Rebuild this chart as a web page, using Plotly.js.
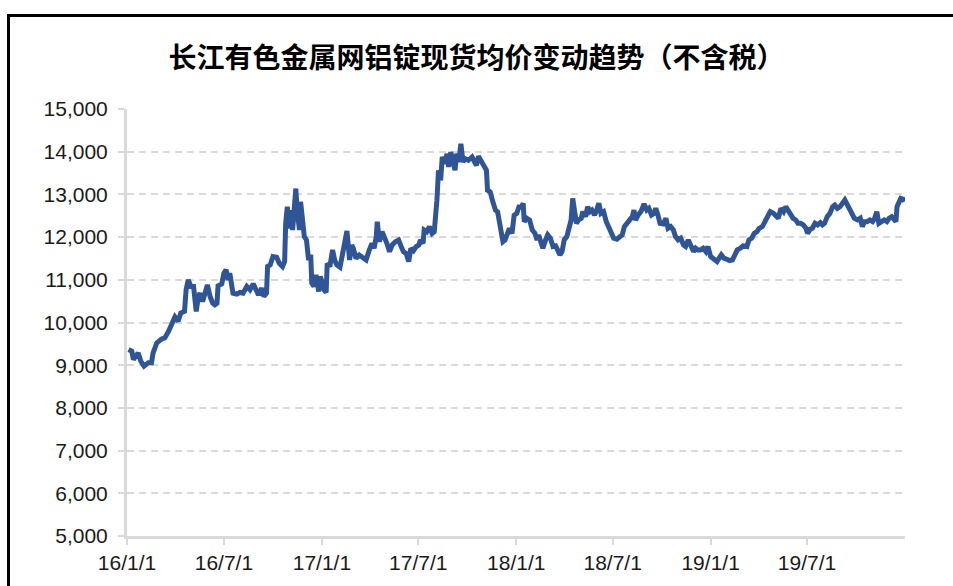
<!DOCTYPE html>
<html>
<head>
<meta charset="utf-8">
<script src="https://cdn.plot.ly/plotly-3.0.1.min.js"></script>
<style>
html,body{margin:0;padding:0;background:#fff;overflow:hidden;width:953px;height:586px;}
#chart{position:absolute;left:0;top:0;width:953px;height:586px;}
#frame{position:absolute;left:7px;top:14px;width:1100px;height:1100px;border:3px solid #000;pointer-events:none;z-index:10;box-sizing:border-box;}
</style>
</head>
<body>
<div id="chart"></div>
<div id="frame"></div>
<script>
const titleText = '长江有色金属网铝锭现货均价变动趋势（不含税）';

const dates = [
'2016-01-04','2016-01-10','2016-01-13','2016-01-22','2016-01-27','2016-02-02','2016-02-10','2016-02-16','2016-02-19','2016-02-26',
'2016-03-06','2016-03-12','2016-03-19','2016-03-25','2016-03-31','2016-04-06','2016-04-11','2016-04-18','2016-04-21','2016-04-25',
'2016-04-30','2016-05-05','2016-05-10','2016-05-14','2016-05-17','2016-05-22','2016-05-27','2016-05-31','2016-06-05','2016-06-10',
'2016-06-14','2016-06-18','2016-06-20','2016-06-27','2016-07-01','2016-07-05','2016-07-09','2016-07-12','2016-07-18','2016-07-25',
'2016-07-31','2016-08-06','2016-08-13','2016-08-19','2016-08-25','2016-08-30','2016-09-04','2016-09-10','2016-09-14','2016-09-19',
'2016-09-21','2016-09-26','2016-10-01','2016-10-08','2016-10-13','2016-10-19','2016-10-23','2016-10-25','2016-10-28','2016-11-01',
'2016-11-04','2016-11-07','2016-11-10','2016-11-13','2016-11-16','2016-11-20','2016-11-22','2016-11-26','2016-11-29','2016-12-03',
'2016-12-07','2016-12-11','2016-12-13','2016-12-17','2016-12-21','2016-12-26','2016-12-29','2017-01-02','2017-01-05','2017-01-09',
'2017-01-11','2017-01-16','2017-01-21','2017-01-25','2017-01-29','2017-02-04','2017-02-09','2017-02-13','2017-02-17','2017-02-22',
'2017-02-26','2017-03-01','2017-03-06','2017-03-12','2017-03-19','2017-03-25','2017-03-31','2017-04-05','2017-04-09','2017-04-13',
'2017-04-15','2017-04-19','2017-04-24','2017-04-29','2017-05-03','2017-05-08','2017-05-13','2017-05-19','2017-05-25','2017-05-30',
'2017-06-03','2017-06-08','2017-06-13','2017-06-17','2017-06-22','2017-06-27','2017-07-02','2017-07-05','2017-07-10','2017-07-12',
'2017-07-17','2017-07-22','2017-07-27','2017-07-31','2017-08-02','2017-08-05','2017-08-08','2017-08-12','2017-08-15','2017-08-20',
'2017-08-24','2017-08-27','2017-08-31','2017-09-04','2017-09-08','2017-09-11','2017-09-15','2017-09-19','2017-09-23','2017-09-27',
'2017-10-03','2017-10-10','2017-10-14','2017-10-18','2017-10-22','2017-10-27','2017-11-01','2017-11-06','2017-11-08','2017-11-13',
'2017-11-18','2017-11-23','2017-11-27','2017-11-30','2017-12-03','2017-12-07','2017-12-11','2017-12-14','2017-12-19','2017-12-24',
'2017-12-28','2018-01-02','2018-01-07','2018-01-09','2018-01-14','2018-01-16','2018-01-21','2018-01-26','2018-01-31','2018-02-05',
'2018-02-09','2018-02-12','2018-02-17','2018-02-20','2018-02-25','2018-03-01','2018-03-06','2018-03-11','2018-03-16','2018-03-20',
'2018-03-24','2018-03-28','2018-04-01','2018-04-06','2018-04-10','2018-04-14','2018-04-17','2018-04-20','2018-04-24','2018-04-28',
'2018-05-03','2018-05-06','2018-05-11','2018-05-15','2018-05-19','2018-05-23','2018-05-28','2018-06-01','2018-06-05','2018-06-09',
'2018-06-14','2018-06-19','2018-06-24','2018-06-28','2018-07-03','2018-07-09','2018-07-14','2018-07-19','2018-07-23','2018-07-28',
'2018-08-02','2018-08-07','2018-08-10','2018-08-13','2018-08-18','2018-08-23','2018-08-29','2018-09-03','2018-09-07','2018-09-12',
'2018-09-17','2018-09-20','2018-09-24','2018-09-28','2018-10-04','2018-10-09','2018-10-13','2018-10-18','2018-10-23','2018-10-27',
'2018-11-01','2018-11-06','2018-11-11','2018-11-15','2018-11-20','2018-11-25','2018-11-30','2018-12-04','2018-12-08','2018-12-13',
'2018-12-18','2018-12-23','2018-12-27','2019-01-01','2019-01-08','2019-01-13','2019-01-17','2019-01-21','2019-01-26','2019-01-31',
'2019-02-06','2019-02-11','2019-02-15','2019-02-20','2019-02-26','2019-03-03','2019-03-10','2019-03-14','2019-03-19','2019-03-24',
'2019-03-29','2019-04-02','2019-04-08','2019-04-13','2019-04-18','2019-04-23','2019-04-29','2019-05-03','2019-05-08','2019-05-13',
'2019-05-18','2019-05-22','2019-05-27','2019-05-31','2019-06-05','2019-06-10','2019-06-14','2019-06-19','2019-06-24','2019-06-29',
'2019-07-02','2019-07-07','2019-07-11','2019-07-16','2019-07-21','2019-07-26','2019-07-30','2019-08-03','2019-08-08','2019-08-13',
'2019-08-18','2019-08-22','2019-08-27','2019-09-01','2019-09-05','2019-09-10','2019-09-15','2019-09-20','2019-09-24','2019-09-28',
'2019-10-04','2019-10-09','2019-10-13','2019-10-17','2019-10-22','2019-10-27','2019-11-01','2019-11-05','2019-11-09','2019-11-13',
'2019-11-18','2019-11-23','2019-11-28','2019-12-02','2019-12-07','2019-12-12','2019-12-15','2019-12-17','2019-12-20','2019-12-24',
'2019-12-29','2019-12-31'
];

const prices = [
9366,9327,9132,9288,9093,8977,9055,9055,9288,9521,
9614,9638,9793,9988,10128,10027,10221,10260,10765,10998,
10843,10843,10260,10610,10687,10493,10765,10882,10610,10454,
10415,10454,10858,10905,11154,11232,10998,11154,10687,10664,
10703,10687,10843,10765,10905,10765,10648,10804,10610,10687,
11310,11348,11543,11527,11387,11310,11426,12320,12709,12204,
12631,12165,12942,13137,12554,12165,12826,12320,12009,11932,
11465,11582,10920,10843,11115,10726,11076,10920,10765,10703,
11387,11310,11698,11465,11348,11294,11582,11815,12142,11465,
11815,11737,11504,11582,11504,11465,11698,11854,11737,12009,
12359,11893,12126,11994,11854,11659,11815,11893,11932,11776,
11659,11620,11426,11737,11683,11776,11815,11932,11854,12165,
12126,12243,12087,12126,12398,12865,13565,13331,13876,13720,
13953,13642,13992,13759,13565,13953,13759,14187,13759,13837,
13798,13876,13798,13681,13891,13798,13681,13565,13098,13059,
12826,12631,12593,12320,12048,11893,11932,12048,12204,12087,
12515,12554,12748,12673,12790,12362,12440,12401,12167,12089,
11934,12051,11856,11739,11934,12051,11973,11778,11794,11700,
11584,11661,11934,12012,12245,12401,12907,12712,12323,12401,
12440,12595,12479,12712,12595,12634,12518,12634,12790,12556,
12595,12362,12206,12089,11973,11949,12012,12051,12245,12323,
12362,12479,12634,12401,12518,12595,12774,12634,12673,12518,
12556,12673,12518,12323,12307,12440,12206,12245,12167,12012,
11934,11973,11817,11778,11934,11817,11661,11739,11700,11700,
11739,11661,11778,11545,11482,11428,11506,11584,11506,11467,
11451,11467,11584,11700,11739,11794,11778,11934,11973,12089,
12128,12206,12245,12362,12479,12595,12556,12518,12440,12673,
12595,12712,12595,12518,12440,12401,12323,12323,12284,12206,
12089,12183,12206,12323,12284,12338,12284,12323,12479,12556,
12712,12751,12673,12712,12790,12868,12751,12634,12595,12440,
12401,12440,12245,12362,12362,12401,12362,12440,12595,12323,
12362,12401,12362,12440,12479,12401,12362,12712,12790,12907,
12883,12829
];

const tickDates = ['2016-01-01','2016-07-01','2017-01-01','2017-07-01','2018-01-01','2018-07-01','2019-01-01','2019-07-01'];
const tickLabels = ['16/1/1','16/7/1','17/1/1','17/7/1','18/1/1','18/7/1','19/1/1','19/7/1'];
const yTicks = [5000,6000,7000,8000,9000,10000,11000,12000,13000,14000,15000];

const trace = {
  x: dates, y: prices, type: 'scatter', mode: 'lines',
  line: {color: '#2F5597', width: 5, shape: 'linear'},
  hoverinfo: 'x+y'
};

const layout = {
  width: 953, height: 586,
  margin: {l: 127, r: 48, t: 109, b: 50, pad: 0},
  paper_bgcolor: 'rgba(0,0,0,0)', plot_bgcolor: 'rgba(0,0,0,0)',
  showlegend: false,
  title: {
    text: titleText,
    font: {family: '"Noto Sans CJK SC", sans-serif', size: 28, color: '#000', weight: 'bold'},
    x: 0.5, xref: 'container', xanchor: 'center',
    y: 1 - 58/586, yref: 'container', yanchor: 'middle'
  },
  xaxis: {
    type: 'date',
    range: ['2016-01-01', '2020-01-01'],
    tickmode: 'array', tickvals: tickDates, ticktext: tickLabels,
    showgrid: false, zeroline: false,
    showline: true, linecolor: '#d9d9d9', linewidth: 3,
    ticks: 'outside', ticklen: 6, tickwidth: 2, tickcolor: '#d9d9d9',
    tickfont: {family: '"Liberation Sans", Arial, sans-serif', size: 21, color: '#1a1a1a'},
    fixedrange: true
  },
  yaxis: {
    range: [5000, 15000],
    tickmode: 'array', tickvals: yTicks,
    tickformat: ',d',
    showgrid: true, gridcolor: '#d9d9d9', gridwidth: 2, griddash: '7px,5px',
    zeroline: false,
    showline: true, linecolor: '#d9d9d9', linewidth: 3,
    ticks: 'outside', ticklen: 6, tickwidth: 2, tickcolor: '#d9d9d9',
    ticklabelstandoff: 6,
    tickfont: {family: '"Liberation Sans", Arial, sans-serif', size: 21, color: '#1a1a1a'},
    fixedrange: true
  }
};

Plotly.newPlot('chart', [trace], layout, {displayModeBar: false, staticPlot: true});
</script>
</body>
</html>
